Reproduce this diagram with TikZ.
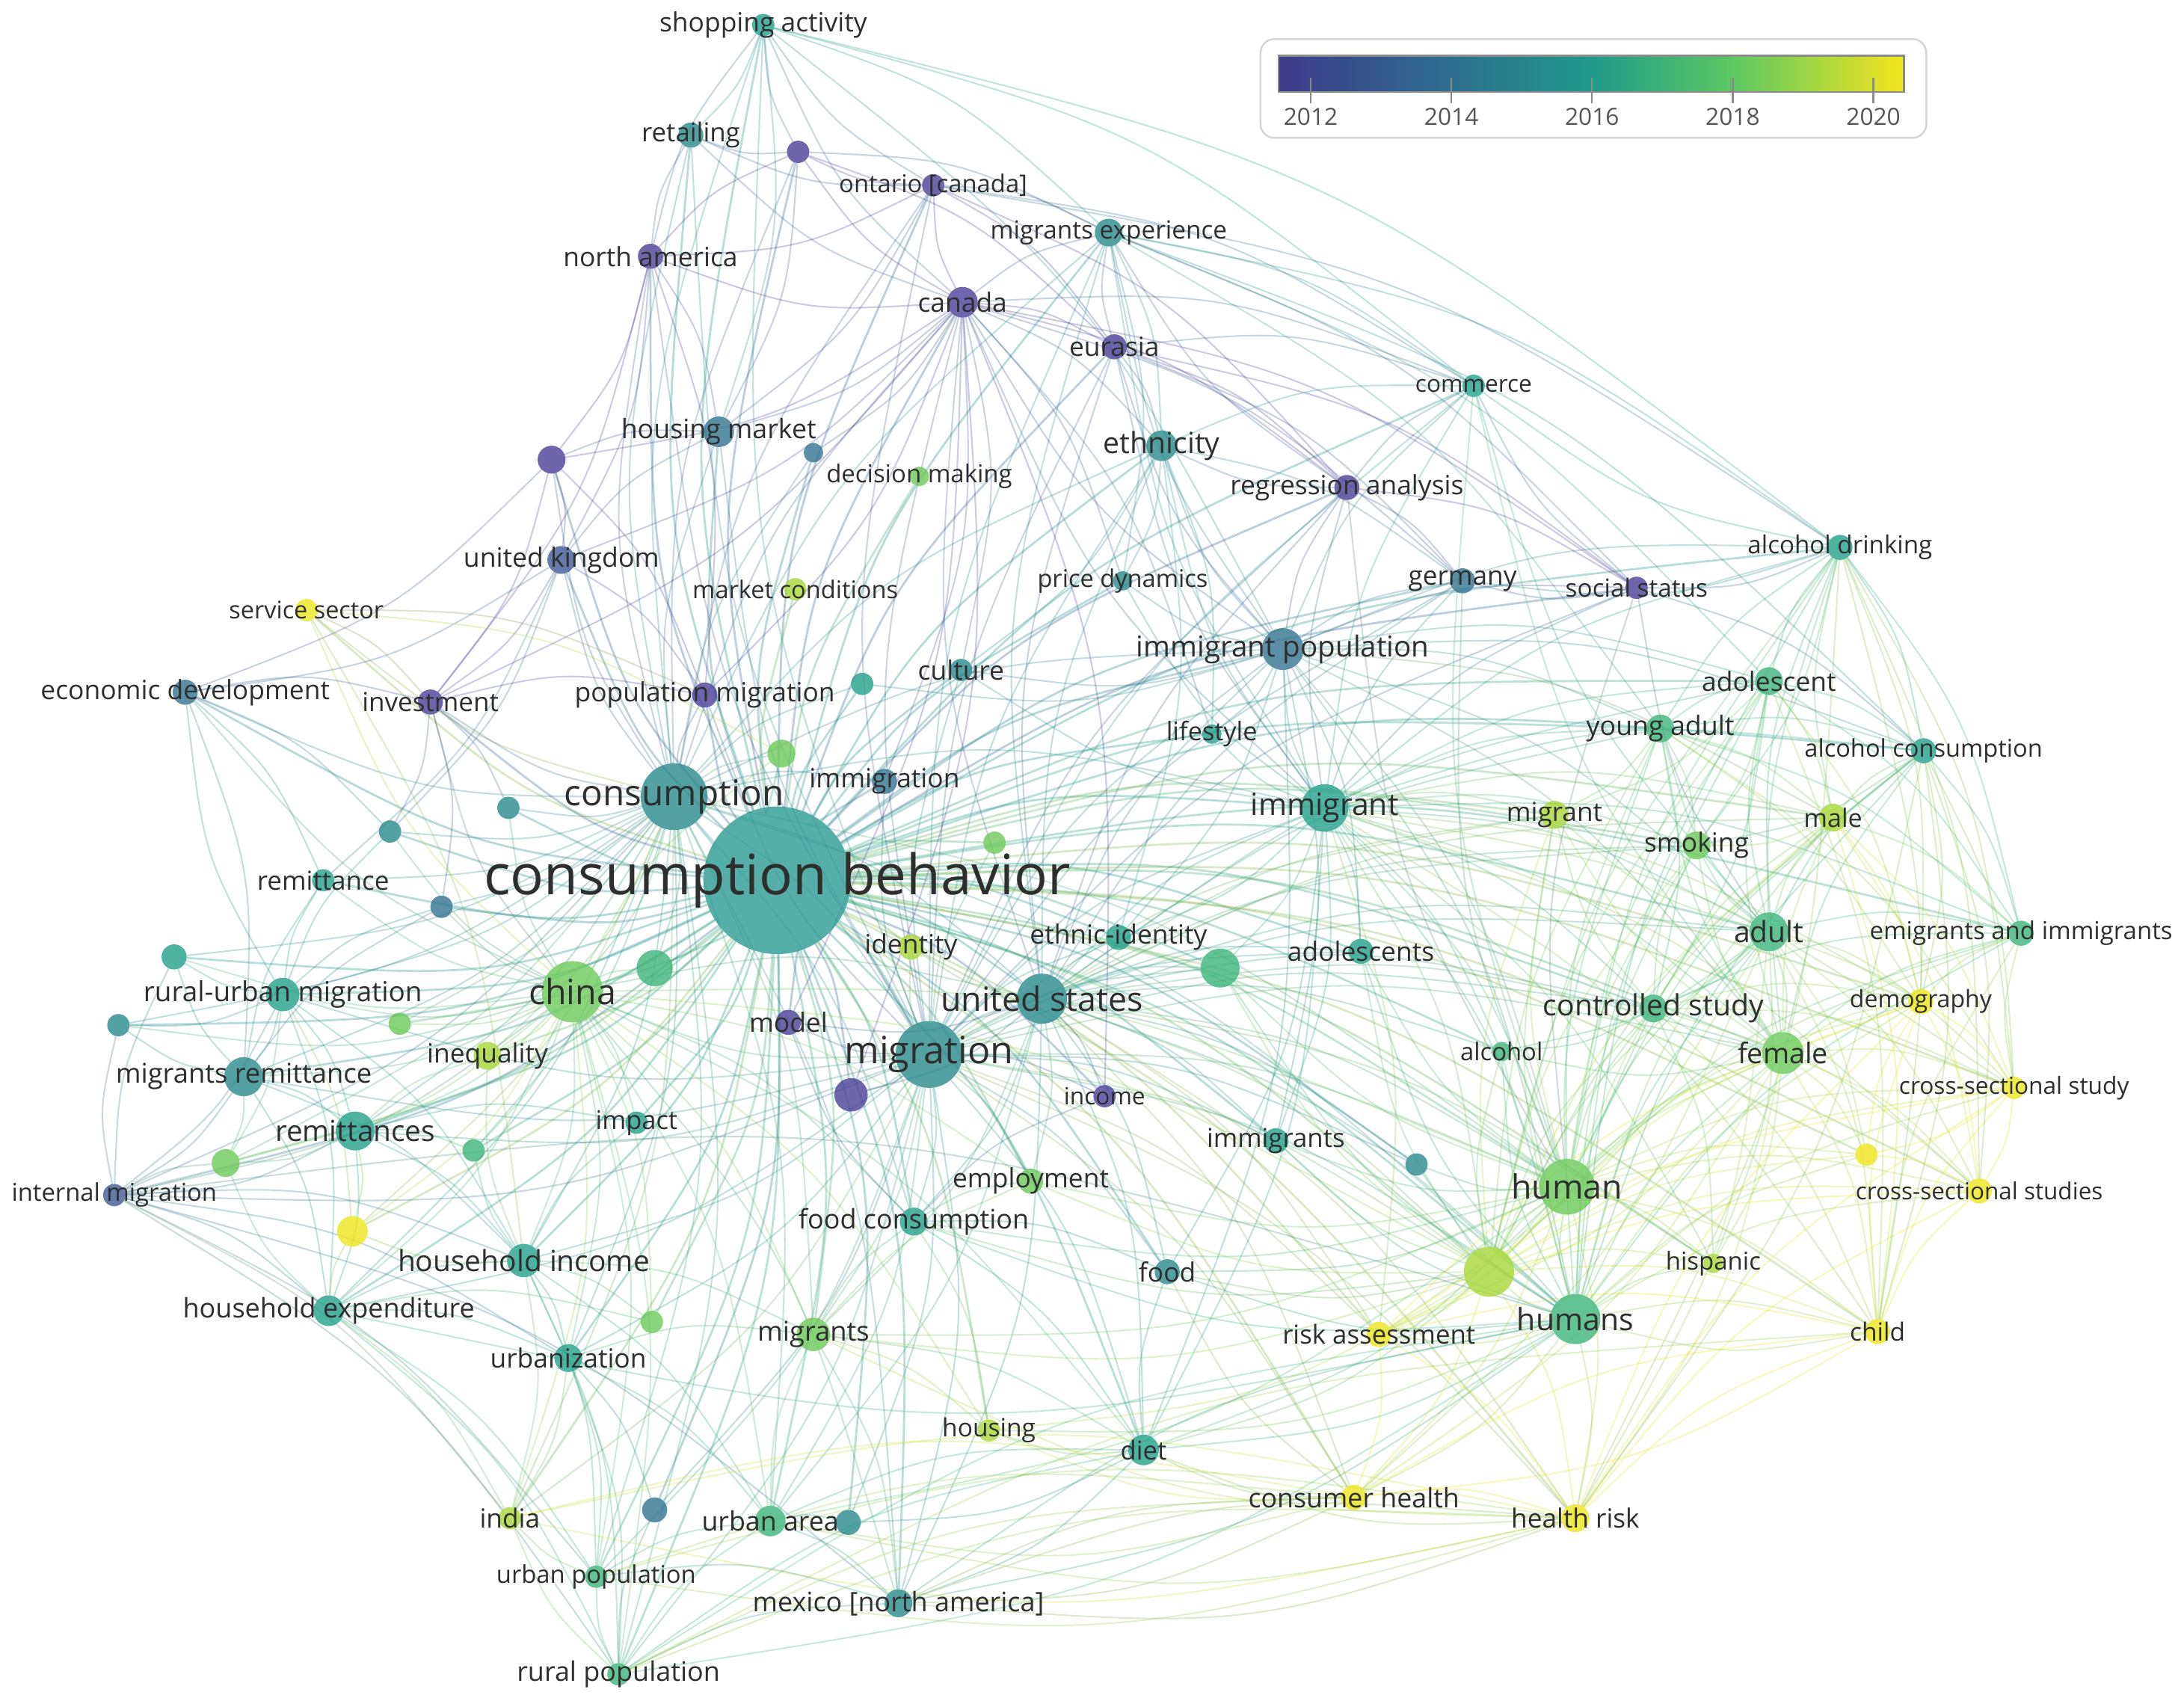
\documentclass[tikz,border=0pt]{standalone}
\usepackage{fontspec}
\setmainfont{Open Sans}
\usetikzlibrary{calc}
\definecolor{Y12}{HTML}{4B3F98}
\definecolor{Y13}{HTML}{3F5A96}
\definecolor{Y14}{HTML}{33748F}
\definecolor{Y15}{HTML}{2A8A8E}
\definecolor{Y16}{HTML}{24A08A}
\definecolor{Y17}{HTML}{3DB57A}
\definecolor{Y18}{HTML}{6CC95A}
\definecolor{Y19}{HTML}{A8D83A}
\definecolor{Y20}{HTML}{EDE51E}
\definecolor{Ycb}{HTML}{2C9A93}
\definecolor{labc}{HTML}{2E2E2E}
\definecolor{boxc}{HTML}{D4D4D4}
\definecolor{tickc}{HTML}{8A8A8A}
\definecolor{ticktext}{HTML}{555555}
\definecolor{CB0}{HTML}{3D3A8B}
\definecolor{CB1}{HTML}{2E6E8E}
\definecolor{CB2}{HTML}{1F9A8A}
\definecolor{CB3}{HTML}{5CC863}
\definecolor{CB4}{HTML}{F5E51E}
\pgfdeclarelayer{bg}
\pgfdeclarelayer{edges}
\pgfsetlayers{bg,edges,main}
\newcommand\vnode[5]{\colorlet{N#1}{Y#5}\node[vn,minimum size={2*#4pt},fill=N#1] (#1) at (#2,#3) {};}
\newcommand\vlabel[3]{\node[lab,font=\fontsize{#2}{#2}\selectfont] (l#1) at (#1.center) {#3};}
\newcommand\hub[3][edge]{\foreach \tgt in {#3} {\draw[#1,draw=N#2!50!N\tgt] (#2) .. controls ($(#2)!0.5!12:(\tgt)$) .. (\tgt);}}
\begin{document}
\begin{tikzpicture}[x=1pt,y=-1pt,
  vn/.style={circle,inner sep=0pt,outer sep=0pt,draw=none,fill opacity=0.8},
  lab/.style={inner sep=0pt,text=labc},
  edge/.style={line width=1.1pt,draw opacity=0.28},
  edgecb/.style={line width=1.5pt,draw opacity=0.33}]
\useasboundingbox (0,0) rectangle (1568,1223);
\begin{pgfonlayer}{bg}
\fill[white] (0,0) rectangle (1568,1223);
\end{pgfonlayer}
% nodes
\vnode{sa}{548}{18}{8}{16}
\vnode{ret}{496}{97}{9}{15}
\vnode{u1}{573}{109}{8}{12}
\vnode{ont}{670}{133}{8}{12}
\vnode{na}{467}{184}{9}{12}
\vnode{mex}{796}{167}{10}{15}
\vnode{can}{691}{217}{11}{12}
\vnode{eur}{800}{249}{9}{12}
\vnode{com}{1058}{277}{8}{16}
\vnode{hm}{516}{310}{11}{14}
\vnode{u2}{584}{325}{7}{14}
\vnode{dm}{660}{342}{7}{18}
\vnode{eth}{834}{320}{11}{15}
\vnode{reg}{967}{350}{9}{12}
\vnode{u3}{396}{330}{10}{12}
\vnode{uk}{403}{402}{10}{13}
\vnode{mc}{571}{423}{8}{19}
\vnode{pd}{806}{417}{7}{15}
\vnode{ger}{1050}{417}{9}{14}
\vnode{ss}{1175}{422}{8}{12}
\vnode{ad}{1321}{393}{9}{16}
\vnode{sec}{220}{438}{8}{20}
\vnode{ed}{133}{497}{9}{14}
\vnode{inv}{309}{504}{9}{12}
\vnode{pm}{506}{499}{9}{12}
\vnode{u4}{619}{491}{8}{16}
\vnode{cul}{690}{481}{8}{15}
\vnode{ip}{921}{466}{15}{14}
\vnode{adl}{1270}{489}{10}{17}
\vnode{ls}{870}{527}{7}{16}
\vnode{ya}{1192}{523}{10}{17}
\vnode{ac}{1381}{539}{9}{16}
\vnode{u5}{561}{541}{10}{18}
\vnode{imn}{635}{561}{9}{14}
\vnode{con}{484}{572}{24}{15}
\vnode{img}{951}{580}{17}{16}
\vnode{mgt}{1116}{585}{10}{19}
\vnode{mal}{1316}{587}{10}{19}
\vnode{smo}{1218}{607}{10}{18}
\vnode{u6}{365}{580}{8}{15}
\vnode{u7}{280}{597}{8}{15}
\vnode{u8}{714}{605}{8}{18}
\vnode{cb}{558}{632}{53}{cb}
\vnode{rem}{232}{632}{8}{16}
\vnode{u9}{317}{651}{8}{14}
\vnode{ide}{654}{680}{9}{19}
\vnode{ei}{803}{673}{9}{16}
\vnode{u10}{876}{695}{14}{17}
\vnode{ads}{977}{683}{9}{16}
\vnode{adu}{1270}{669}{14}{17}
\vnode{eai}{1451}{670}{9}{17}
\vnode{u11}{125}{687}{9}{16}
\vnode{u12}{470}{695}{13}{17}
\vnode{rum}{203}{714}{12}{16}
\vnode{chi}{411}{712}{22}{18}
\vnode{us}{748}{717}{18}{15}
\vnode{cs}{1187}{724}{10}{17}
\vnode{dem}{1379}{719}{9}{20}
\vnode{u13}{85}{736}{8}{15}
\vnode{u14}{287}{735}{8}{18}
\vnode{mod}{566}{734}{9}{12}
\vnode{ineq}{350}{758}{10}{19}
\vnode{mr}{175}{773}{14}{15}
\vnode{mig}{667}{757}{24}{15}
\vnode{alc}{1078}{755}{7}{17}
\vnode{fem}{1280}{756}{15}{18}
\vnode{css}{1446}{781}{8}{20}
\vnode{u15}{611}{786}{12}{12}
\vnode{inc}{793}{787}{8}{12}
\vnode{rems}{255}{812}{14}{16}
\vnode{imp}{457}{806}{8}{16}
\vnode{u16}{340}{826}{8}{17}
\vnode{imms}{916}{819}{9}{16}
\vnode{u17}{1017}{836}{8}{15}
\vnode{u18}{1340}{829}{8}{20}
\vnode{u19}{162}{835}{10}{18}
\vnode{im}{82}{858}{8}{13}
\vnode{emp}{740}{848}{9}{18}
\vnode{hum}{1125}{852}{20}{18}
\vnode{csst}{1421}{855}{9}{20}
\vnode{fc}{656}{877}{10}{16}
\vnode{u20}{253}{884}{11}{20}
\vnode{hi}{376}{905}{12}{16}
\vnode{food}{838}{913}{9}{15}
\vnode{u21}{1069}{913}{18}{19}
\vnode{his}{1230}{907}{7}{19}
\vnode{he}{236}{941}{11}{16}
\vnode{u22}{468}{949}{8}{18}
\vnode{hums}{1131}{947}{18}{17}
\vnode{ra}{990}{958}{9}{20}
\vnode{chd}{1348}{956}{9}{20}
\vnode{mgs}{584}{958}{12}{18}
\vnode{urb}{408}{975}{10}{16}
\vnode{hou}{710}{1027}{8}{19}
\vnode{diet}{821}{1041}{11}{16}
\vnode{ch}{972}{1075}{9}{20}
\vnode{hr}{1131}{1090}{10}{20}
\vnode{u23}{470}{1084}{9}{14}
\vnode{ind}{366}{1090}{8}{19}
\vnode{ua}{553}{1092}{11}{17}
\vnode{u24}{609}{1093}{9}{15}
\vnode{up}{428}{1132}{8}{17}
\vnode{mx}{645}{1151}{10}{15}
\vnode{rp}{444}{1202}{8}{17}
% edges
\begin{pgfonlayer}{edges}
\hub[edgecb]{cb}{sa,ret,u1,ont,na,mex,can,eur,com,hm,u2,dm,eth,reg,u3,uk,mc,pd,ger,ss,ad,sec,ed,inv,pm,u4,cul,ip,adl,ls,ya,ac,u5,imn,con,img,mgt,mal,smo,u6,u7,u8,rem,u9,ide,ei,u10,ads,adu,eai,u11,u12,rum,chi,us,cs,dem,u13,u14,mod,ineq,mr,mig,alc,fem,css,u15,inc,rems,imp,u16,imms,u17,u18,u19,im,emp,hum,csst,fc,u20,hi,food,u21,his,he,u22,hums,ra,chd,mgs,urb,hou,diet,ch,hr,u23,ind,ua,u24,up,mx,rp}
\hub{con}{sa,ret,u1,na,can,ont,hm,u2,u3,uk,sec,ed,inv,pm,u4,u5,imn,u6,u7,rem,u9,u11,rum,chi,mig,us,mr,u13,rems,u19,im,hi,he,u20,urb,ind,up,rp,ua,mgs,fc,hum,hums,img,ip,u12,u14,ineq,u16,mx,eth,mex}
\hub{mig}{sa,ret,na,can,ont,mex,eur,hm,eth,reg,ip,img,us,chi,rum,mr,rems,im,hi,he,fc,food,diet,mx,ua,up,rp,emp,inc,u15,mod,hum,hums,fem,adu,mgt,imms,ads,ei,ide,u10,u21,ra,ch,hr,urb,mgs,ind,u23,u24,cul,pm,imn,u8,com,ger,ss,u17,cs,smo}
\hub{chi}{rum,mr,rems,hi,he,urb,ind,up,rp,ua,ineq,imp,u12,u14,u16,u19,u20,u22,mgs,ed,rem,u7,u9,u11,u13,im,fc,emp,us,u5,u6,diet,hou,mx,hum,u21,sec,inv}
\hub{us}{img,ip,eth,ei,ads,imms,hum,hums,fem,adu,cs,food,diet,mx,his,ra,ch,hr,can,ger,u10,emp,fc,mgs,ua,ide,inc,mod,u15,mgt,smo,alc,u17,u21,mal,ya,adl,mex,eur,reg}
\hub{img}{ip,eth,mex,can,eur,com,reg,ger,ss,ad,adl,ya,ac,mgt,mal,smo,adu,fem,cs,hum,hums,u21,alc,imms,ads,ei,u10,ls,cul,pd,dem,css,csst,chd,his,ra,diet,food,eai}
\hub{ip}{eth,can,eur,mex,com,reg,ger,ss,ad,adl,ya,hum,hums,adu,fem,imms,ads,ei,ls,cul,pd,u4,diet,ac,mal}
\hub{hum}{adl,ya,ac,ad,mal,smo,mgt,adu,fem,cs,dem,css,csst,chd,his,ra,ch,hr,alc,eai,u18,ss,imms,ads,diet,food,u10,u17,com,ger,reg,fc,emp,mgs,ua}
\hub{hums}{adl,ya,ac,ad,mal,smo,mgt,adu,fem,cs,dem,css,csst,chd,his,ra,ch,hr,alc,eai,u18,imms,ads,diet,food,u10,u17,hum,u21,fc,hou,mx,rp,he}
\hub{u21}{adl,ya,ac,ad,mal,smo,mgt,adu,fem,cs,dem,css,csst,chd,his,ra,ch,hr,alc,eai,u18,imms,diet,food,hum,fc,emp,mgs,hou,u10,ads}
\hub{adu}{fem,mal,ya,adl,ac,ad,smo,mgt,cs,dem,css,csst,chd,his,eai,u18,alc,ss,hr,ra,ch,com}
\hub{fem}{mal,ya,adl,ac,ad,smo,mgt,cs,dem,css,csst,chd,his,eai,u18,alc,hr,ra,ch,com}
\hub{ya}{adl,ac,ad,mal,smo,mgt,cs,eai,dem,css}
\hub{adl}{ac,ad,mal,smo,mgt,cs,eai,dem,chd}
\hub{cs}{mal,smo,mgt,dem,css,csst,chd,eai,alc,his}
\hub{mal}{ac,ad,smo,dem,css,csst,eai,chd}
\hub{ra}{ch,hr,chd,css,csst,dem}
\hub{ch}{hr,chd,diet,food,hou,ua,mx}
\hub{hr}{chd,css,csst,dem,diet,ua,up,ind,mx,mgs}
\hub{chd}{css,csst,dem,eai,hums,ch}
\hub{dem}{css,csst,eai}
\hub{css}{csst,eai,u18}
\hub{u18}{csst,dem}
\hub{ad}{ac,smo,com,ss,ger,chd,hr,csst,css,dem,eai}
\hub{ac}{smo,eai,dem,chd,csst,css,hr}
\hub{can}{ont,na,u1,eur,reg,ss,ret,sa,hm,uk,u3,pm,inv,mex,eth,ger,com,pd,cul,ls,mod,inc,u15,imn,u2}
\hub{ont}{u1,ret,na,mex,eur,reg,sa,hm,com,ad}
\hub{na}{u1,ret,uk,u3,hm,sa,inv,pm}
\hub{u1}{ret,sa,mex,eur,hm}
\hub{eur}{reg,ss,mex,eth,com,ger}
\hub{reg}{ss,ger,com,eth,mex}
\hub{ss}{ger,com,ac}
\hub{u3}{uk,inv,pm,hm,ed}
\hub{uk}{hm,inv,pm,ed,u7,rem}
\hub{sa}{ret,mex,com,hm,ad,ip}
\hub{mex}{eth,com,pd,ad,ac,adl,ya,ss}
\hub{eth}{com,pd,cul,ls,ei,ger}
\hub{rum}{mr,rems,im,u11,u13,u19,rem,u7,u9,ed,hi,he,u20}
\hub{mr}{rems,im,u13,u19,u11,hi,he,rem,u9}
\hub{rems}{im,u19,u20,hi,he,u16,imp,ineq}
\hub{im}{u13,u19,he,hi,urb,rp,u11,hums,up,ind,mx}
\hub{he}{hi,urb,ind,up,rp,u20,u22,u19}
\hub{hi}{urb,ind,up,rp,ua,u22,mgs,imp,ineq,u16,u20}
\hub{urb}{up,rp,ind,ua,mgs,u23}
\hub{rp}{up,ind,ua,mx,u23,hums,hr,ch,chd,diet}
\hub{up}{ind,ua,mx,hr,ch}
\hub{ua}{mx,u24,mgs,diet}
\hub{mgs}{fc,emp,diet,hou,mx}
\hub{fc}{food,diet,emp,hou,mod,inc}
\hub{diet}{food,hou,mx,u24}
\hub{sec}{inv,pm,u5,hi}
\hub{ed}{rem,u7,inv,mr}
\hub{inv}{pm,u6,u7,u9}
\hub{ind}{ch,hr}
\hub{mx}{hr,ch,hums}
\end{pgfonlayer}
% labels
\vlabel{sa}{19}{shopping activity}
\vlabel{ret}{18.7}{retailing}
\vlabel{ont}{17.6}{ontario [canada]}
\vlabel{na}{19}{north america}
\vlabel{mex}{17.9}{migrants experience}
\vlabel{can}{19}{canada}
\vlabel{eur}{19}{eurasia}
\vlabel{com}{17}{commerce}
\vlabel{hm}{19.2}{housing market}
\vlabel{dm}{17.7}{decision making}
\vlabel{eth}{21}{ethnicity}
\vlabel{reg}{19}{regression analysis}
\vlabel{uk}{19.1}{united kingdom}
\vlabel{mc}{17.5}{market conditions}
\vlabel{pd}{17.5}{price dynamics}
\vlabel{ger}{18.9}{germany}
\vlabel{ss}{17.9}{social status}
\vlabel{ad}{17.8}{alcohol drinking}
\vlabel{sec}{17.4}{service sector}
\vlabel{ed}{19}{economic development}
\vlabel{inv}{18.8}{investment}
\vlabel{pm}{19}{population migration}
\vlabel{cul}{19}{culture}
\vlabel{ip}{20.7}{immigrant population}
\vlabel{adl}{19}{adolescent}
\vlabel{ls}{18.4}{lifestyle}
\vlabel{ya}{19.2}{young adult}
\vlabel{ac}{17.5}{alcohol consumption}
\vlabel{imn}{19}{immigration}
\vlabel{con}{25.6}{consumption}
\vlabel{img}{22}{immigrant}
\vlabel{mgt}{18.9}{migrant}
\vlabel{mal}{18.3}{male}
\vlabel{smo}{19}{smoking}
\vlabel{cb}{40}{consumption behavior}
\vlabel{rem}{18.8}{remittance}
\vlabel{ide}{19}{identity}
\vlabel{ei}{19}{ethnic-identity}
\vlabel{ads}{19}{adolescents}
\vlabel{adu}{21}{adult}
\vlabel{eai}{17.7}{emigrants and immigrants}
\vlabel{rum}{19.8}{rural-urban migration}
\vlabel{chi}{25}{china}
\vlabel{us}{24}{united states}
\vlabel{cs}{21}{controlled study}
\vlabel{dem}{17.2}{demography}
\vlabel{mod}{19}{model}
\vlabel{ineq}{19}{inequality}
\vlabel{mr}{19.5}{migrants remittance}
\vlabel{mig}{27}{migration}
\vlabel{alc}{17.6}{alcohol}
\vlabel{fem}{20.3}{female}
\vlabel{css}{17}{cross-sectional study}
\vlabel{inc}{17}{income}
\vlabel{rems}{20.8}{remittances}
\vlabel{imp}{18.5}{impact}
\vlabel{imms}{18.7}{immigrants}
\vlabel{im}{17.6}{internal migration}
\vlabel{emp}{19}{employment}
\vlabel{hum}{24}{human}
\vlabel{csst}{16.9}{cross-sectional studies}
\vlabel{fc}{19.3}{food consumption}
\vlabel{hi}{20.9}{household income}
\vlabel{food}{19}{food}
\vlabel{his}{17.7}{hispanic}
\vlabel{he}{19.3}{household expenditure}
\vlabel{hums}{22}{humans}
\vlabel{ra}{18.7}{risk assessment}
\vlabel{chd}{18}{child}
\vlabel{mgs}{19.5}{migrants}
\vlabel{urb}{19}{urbanization}
\vlabel{hou}{18}{housing}
\vlabel{diet}{18.6}{diet}
\vlabel{ch}{19.2}{consumer health}
\vlabel{hr}{18.9}{health risk}
\vlabel{ind}{18.9}{india}
\vlabel{ua}{19.2}{urban area}
\vlabel{up}{17.6}{urban population}
\vlabel{mx}{19.3}{mexico [north america]}
\vlabel{rp}{19.3}{rural population}
% colour bar legend
\draw[draw=boxc,line width=1.3pt,rounded corners=10pt,fill=white] (905,28) rectangle (1383,99);
\shade[left color=CB0,right color=CB1] (918,40) rectangle (1042,66);
\shade[left color=CB1,right color=CB2] (1041.5,40) rectangle (1143,66);
\shade[left color=CB2,right color=CB3] (1142.5,40) rectangle (1244,66);
\shade[left color=CB3,right color=CB4] (1243.5,40) rectangle (1367,66);
\draw[tickc,line width=1.2pt] (918,40) rectangle (1367,66);
\foreach \xx/\yr in {941/2012,1042/2014,1143/2016,1244/2018,1345/2020}{
  \draw[tickc,line width=1.2pt] (\xx,56) -- (\xx,74);
  \node[text=ticktext,inner sep=0pt,font=\fontsize{17}{17}\selectfont] (t\yr) at (\xx,84) {\yr};
}
\end{tikzpicture}
\end{document}
